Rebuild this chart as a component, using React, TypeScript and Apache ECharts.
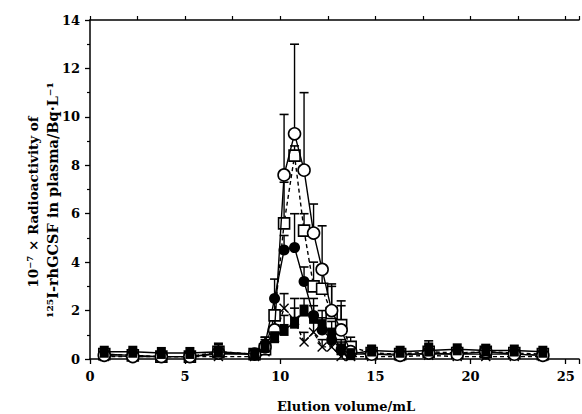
import React, { useEffect, useRef } from "react";
import * as echarts from "echarts";

// Elution volumes (mL) of the collected fractions
const volume = [0.75, 2.25, 3.75, 5.25, 6.75, 8.65, 9.2, 9.7, 10.2, 10.75, 11.25, 11.75, 12.2, 12.7, 13.2, 13.7, 14.8, 16.3, 17.8, 19.3, 20.8, 22.3, 23.8];

// Open circles
const openCircle = [0.15, 0.1, 0.1, 0.1, 0.25, 0.2, 0.5, 1.2, 7.6, 9.3, 7.8, 5.2, 3.7, 2.0, 1.2, 0.3, 0.2, 0.15, 0.25, 0.2, 0.3, 0.2, 0.15];
const openCircleErr = [0.1, 0.05, 0.05, 0.05, 0.4, 0.1, 0.4, 0.8, 2.5, 3.7, 3.2, 1.2, 1.8, 1.0, 1.0, 0.3, 0.2, 0.1, 0.5, 0.2, 0.3, 0.2, 0.1];

// Open squares
const openSquare = [0.2, 0.15, 0.1, 0.1, 0.3, 0.2, 0.4, 1.8, 5.6, 8.4, 5.3, 3.0, 2.9, 1.9, 1.4, 0.5, 0.25, 0.2, 0.3, 0.25, 0.3, 0.25, 0.2];
const openSquareErr = [0.1, 0.1, 0.05, 0.05, 0.3, 0.1, 0.3, 0.6, 1.7, 0.4, 0.7, 1.0, 0.9, 1.2, 1.0, 0.4, 0.2, 0.1, 0.3, 0.2, 0.2, 0.2, 0.1];

// Filled circles
const filledCircle = [0.2, 0.15, 0.1, 0.1, 0.2, 0.2, 0.6, 2.5, 4.5, 4.6, 3.2, 1.8, 1.2, 0.8, 0.4, 0.2, 0.2, 0.2, 0.2, 0.2, 0.2, 0.2, 0.15];
const filledCircleErr = [0.1, 0.05, 0.05, 0.05, 0.1, 0.1, 0.3, 0.8, 0.6, 1.4, 0.6, 0.7, 0.5, 0.4, 0.3, 0.1, 0.1, 0.1, 0.1, 0.1, 0.1, 0.1, 0.1];

// Crosses
const cross = [0.1, 0.1, 0.1, 0.1, 0.1, 0.1, 0.3, 0.9, 2.1, 1.6, 0.7, 1.1, 0.5, 0.5, 0.1, 0.1, 0.1, 0.1, 0.15, 0.1, 0.1, 0.1, 0.1];
const crossErr = [0.05, 0.05, 0.05, 0.05, 0.05, 0.05, 0.2, 0.4, 0.6, 0.9, 0.4, 0.5, 0.3, 0.3, 0.1, 0.05, 0.05, 0.05, 0.05, 0.05, 0.05, 0.05, 0.05];

// Filled squares
const filledSquare = [0.3, 0.3, 0.25, 0.25, 0.3, 0.2, 0.5, 0.9, 1.2, 1.5, 2.0, 1.7, 1.4, 1.05, 0.4, 0.2, 0.35, 0.3, 0.35, 0.4, 0.35, 0.35, 0.3];
const filledSquareErr = [0.1, 0.1, 0.05, 0.05, 0.2, 0.1, 0.3, 0.4, 0.6, 0.6, 0.5, 0.5, 0.6, 0.5, 0.4, 0.1, 0.2, 0.1, 0.3, 0.1, 0.1, 0.1, 0.1];

// Axis ticks
const yTickLabels = [0, 2, 4, 6, 8, 10, 12, 14];
const xTickLabels = [0, 5, 10, 15, 20, 25];

const yTitle1 = "10\u207B\u2077 \u00D7 Radioactivity of";
const yTitle2 = "\u00B9\u00B2\u2075I-rhGCSF in plasma/Bq\u00B7L\u207B\u00B9";
const xTitle = "Elution volume/mL";

const FONT = "'DejaVu Serif', 'Liberation Serif', serif";

export default function App() {
  const ref = useRef<HTMLDivElement>(null);

  useEffect(() => {
    if (!ref.current) return;
    const chart = echarts.init(ref.current, undefined, { renderer: "svg" });

    const pairs = (vals: number[]) => volume.map((v, i) => [v, vals[i]]);
    const errData: number[][] = [];
    const addErr = (vals: number[], errs: number[]) => {
      volume.forEach((v, i) => errData.push([v, vals[i], vals[i] + errs[i]]));
    };
    addErr(openCircle, openCircleErr);
    addErr(openSquare, openSquareErr);
    addErr(filledCircle, filledCircleErr);
    addErr(cross, crossErr);
    addErr(filledSquare, filledSquareErr);

    const crossPath =
      "path://M0,1L1,0L5,4L9,0L10,1L6,5L10,9L9,10L5,6L1,10L0,9L4,5Z";

    const lineSeries = (
      name: string,
      vals: number[],
      symbol: string,
      size: number | number[],
      filled: boolean,
      dashed: boolean,
      z: number
    ) => ({
      name,
      type: "line",
      data: pairs(vals),
      symbol,
      symbolSize: size,
      showAllSymbol: true,
      z,
      lineStyle: { color: "#000", width: 1.4, type: dashed ? [4, 3] : "solid" },
      itemStyle: {
        color: filled ? "#000" : "#fff",
        borderColor: "#000",
        borderWidth: filled ? 0 : 1.6,
      },
      emphasis: { disabled: true },
    });

    chart.setOption({
      animation: false,
      backgroundColor: "#fff",
      grid: { left: 90, right: 0, top: 20, bottom: 55, containLabel: false },
      xAxis: [
        {
          type: "value",
          position: "bottom",
          min: 0,
          max: 25.7,
          interval: 5,
          axisLine: { show: true, lineStyle: { color: "#000", width: 1.5 } },
          axisTick: { show: true, inside: false, length: 5, lineStyle: { color: "#000", width: 1.3 } },
          splitLine: { show: false },
          axisLabel: {
            color: "#000",
            fontFamily: FONT,
            fontWeight: "bold",
            fontSize: 13,
            margin: 11,
            formatter: (v: number) => (xTickLabels.includes(v) ? String(v) : ""),
          },
        },
        {
          type: "value",
          position: "top",
          min: 0,
          max: 25.7,
          interval: 2.5,
          axisLine: { show: true, onZero: false, lineStyle: { color: "#000", width: 1.5 } },
          axisTick: { show: true, inside: false, length: 4, lineStyle: { color: "#000", width: 1.2 } },
          axisLabel: { show: false },
          splitLine: { show: false },
        },
      ],
      yAxis: {
        type: "value",
        min: 0,
        max: 14,
        interval: 2,
        axisLine: { show: true, lineStyle: { color: "#000", width: 1.5 } },
        axisTick: { show: true, inside: false, length: 5, lineStyle: { color: "#000", width: 1.3 } },
        minorTick: { show: true, splitNumber: 2, length: 3, lineStyle: { color: "#000", width: 1.2 } },
        splitLine: { show: false },
        axisLabel: {
          color: "#000",
          fontFamily: FONT,
          fontWeight: "bold",
          fontSize: 13,
          margin: 10,
          formatter: (v: number) => (yTickLabels.includes(v) ? String(v) : ""),
        },
      },
      graphic: [
        {
          type: "text",
          x: 33,
          y: 202,
          rotation: Math.PI / 2,
          style: {
            text: yTitle1,
            font: `bold 13.5px ${FONT}`,
            fill: "#000",
            align: "center",
            verticalAlign: "middle",
          },
        },
        {
          type: "text",
          x: 52,
          y: 200,
          rotation: Math.PI / 2,
          style: {
            text: yTitle2,
            font: `bold 14.5px ${FONT}`,
            fill: "#000",
            align: "center",
            verticalAlign: "middle",
          },
        },
        {
          type: "text",
          x: 346,
          y: 406,
          style: {
            text: xTitle,
            font: `bold 13px ${FONT}`,
            fill: "#000",
            align: "center",
            verticalAlign: "middle",
          },
        },
      ],
      series: [
        {
          type: "custom",
          name: "err",
          z: 1,
          data: errData,
          encode: { x: 0, y: 1 },
          renderItem: (params: any, api: any) => {
            const x = api.value(0);
            const y = api.value(1);
            const top = api.value(2);
            const p0 = api.coord([x, y]);
            const p1 = api.coord([x, top]);
            return {
              type: "group",
              children: [
                {
                  type: "line",
                  shape: { x1: p0[0], y1: p0[1], x2: p1[0], y2: p1[1] },
                  style: { stroke: "#000", lineWidth: 1.4 },
                },
                {
                  type: "line",
                  shape: { x1: p1[0] - 4.5, y1: p1[1], x2: p1[0] + 4.5, y2: p1[1] },
                  style: { stroke: "#000", lineWidth: 1.6 },
                },
              ],
            };
          },
        },
        lineSeries("crosses", cross, crossPath, 10, true, true, 3),
        lineSeries("filled circles", filledCircle, "circle", 11, true, false, 4),
        lineSeries("open squares", openSquare, "rect", 11, false, true, 5),
        lineSeries("open circles", openCircle, "circle", 12, false, false, 6),
        lineSeries("filled squares", filledSquare, "rect", [9, 12], true, false, 7),
      ],
    });

    return () => chart.dispose();
  }, []);

  return <div ref={ref} style={{ width: 582, height: 414, position: "absolute", left: 0, top: 0 }} />;
}
